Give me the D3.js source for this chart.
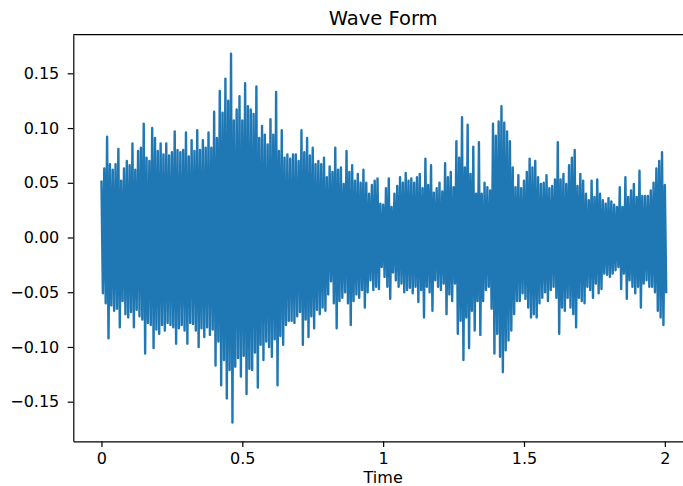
<!DOCTYPE html>
<html>
<head>
<meta charset="utf-8">
<script src="https://cdn.jsdelivr.net/npm/d3@7"></script>
<style>
  body { margin: 0; background: #fff; }
  text { font-family: "DejaVu Sans", sans-serif; }
</style>
</head>
<body>
<svg id="myGraph" width="683" height="486"></svg>
<script>
// one max/min pair per 10 ms window
var step = 0.01

var upperPeaks = [
  0.052,0.063,0.092,0.067,0.062,0.067,0.081,0.052,0.063,0.070,
  0.066,0.086,0.062,0.079,0.082,0.104,0.073,0.070,0.100,0.091,
  0.079,0.086,0.076,0.086,0.075,0.078,0.097,0.080,0.078,0.080,
  0.096,0.074,0.089,0.079,0.098,0.080,0.089,0.082,0.096,0.082,
  0.115,0.091,0.134,0.114,0.145,0.125,0.168,0.107,0.117,0.129,
  0.107,0.141,0.120,0.117,0.113,0.138,0.091,0.102,0.094,0.085,
  0.108,0.094,0.133,0.079,0.098,0.073,0.076,0.072,0.076,0.076,
  0.070,0.098,0.078,0.091,0.075,0.082,0.067,0.070,0.067,0.073,
  0.055,0.065,0.060,0.082,0.062,0.064,0.049,0.079,0.060,0.066,
  0.052,0.058,0.050,0.062,0.050,0.040,0.048,0.052,0.054,0.031,
  0.030,0.045,0.054,0.028,0.040,0.047,0.055,0.050,0.059,0.052,
  0.054,0.050,0.055,0.058,0.045,0.072,0.048,0.066,0.041,0.045,
  0.050,0.042,0.068,0.055,0.060,0.046,0.088,0.073,0.110,0.064,
  0.103,0.058,0.083,0.040,0.087,0.040,0.050,0.046,0.043,0.104,
  0.093,0.106,0.120,0.105,0.097,0.088,0.064,0.046,0.057,0.045,
  0.052,0.060,0.072,0.064,0.070,0.055,0.049,0.050,0.057,0.045,
  0.047,0.053,0.087,0.053,0.058,0.049,0.066,0.073,0.080,0.047,
  0.058,0.052,0.040,0.034,0.052,0.037,0.053,0.040,0.034,0.031,
  0.036,0.033,0.030,0.028,0.046,0.028,0.055,0.037,0.043,0.049,
  0.037,0.061,0.038,0.038,0.038,0.043,0.050,0.063,0.070,0.078,
  0.048
]

var lowerPeaks = [
  -0.051,-0.060,-0.092,-0.062,-0.067,-0.065,-0.082,-0.058,-0.070,-0.073,
  -0.068,-0.082,-0.066,-0.072,-0.075,-0.106,-0.078,-0.080,-0.101,-0.084,
  -0.088,-0.080,-0.085,-0.078,-0.080,-0.082,-0.097,-0.083,-0.080,-0.085,
  -0.097,-0.078,-0.079,-0.085,-0.100,-0.083,-0.091,-0.082,-0.089,-0.084,
  -0.117,-0.095,-0.135,-0.112,-0.147,-0.121,-0.169,-0.118,-0.110,-0.127,
  -0.108,-0.143,-0.120,-0.121,-0.105,-0.137,-0.098,-0.112,-0.095,-0.100,
  -0.109,-0.093,-0.135,-0.090,-0.098,-0.080,-0.076,-0.076,-0.078,-0.072,
  -0.068,-0.098,-0.075,-0.091,-0.072,-0.083,-0.066,-0.070,-0.064,-0.067,
  -0.052,-0.040,-0.060,-0.083,-0.058,-0.055,-0.050,-0.060,-0.080,-0.058,
  -0.052,-0.055,-0.048,-0.064,-0.050,-0.039,-0.048,-0.045,-0.047,-0.027,
  -0.036,-0.045,-0.056,-0.032,-0.039,-0.045,-0.042,-0.050,-0.048,-0.046,
  -0.051,-0.045,-0.059,-0.048,-0.073,-0.045,-0.050,-0.067,-0.039,-0.045,
  -0.048,-0.042,-0.070,-0.052,-0.058,-0.042,-0.088,-0.076,-0.112,-0.073,
  -0.101,-0.067,-0.085,-0.058,-0.089,-0.058,-0.048,-0.045,-0.065,-0.106,
  -0.088,-0.109,-0.123,-0.103,-0.094,-0.085,-0.070,-0.058,-0.058,-0.051,
  -0.056,-0.064,-0.073,-0.070,-0.073,-0.060,-0.055,-0.050,-0.058,-0.048,
  -0.045,-0.055,-0.088,-0.064,-0.067,-0.055,-0.064,-0.070,-0.082,-0.055,
  -0.058,-0.060,-0.045,-0.048,-0.055,-0.042,-0.051,-0.047,-0.033,-0.034,
  -0.036,-0.033,-0.030,-0.027,-0.047,-0.033,-0.056,-0.039,-0.045,-0.051,
  -0.045,-0.064,-0.042,-0.039,-0.045,-0.045,-0.050,-0.067,-0.073,-0.080,
  -0.051
]

var xTicks = [0, 0.5, 1, 1.5, 2]
var xTickLabels = ["0", "0.5", "1", "1.5", "2"]
var yTicks = [-0.15, -0.10, -0.05, 0, 0.05, 0.10, 0.15]
var yTickLabels = ["\u22120.15", "\u22120.10", "\u22120.05", "0.00", "0.05", "0.10", "0.15"]

// plot frame (right edge lies just past the picture)
var plotLeft = 73.3, plotRight = 693, plotTop = 34.7, plotBottom = 441.3

var svg = d3.select("#myGraph")

var xScale = d3.scaleLinear()
    .domain([-0.1, 2.1])
    .range([plotLeft, plotRight])

var yScale = d3.scaleLinear()
    .domain([-0.1862, 0.1853])
    .range([plotBottom, plotTop])

// waveform: each window climbs to its max, then drops to its min
var points = []
upperPeaks.forEach((v, i) => {
    points.push([i * step, v])
    points.push([i * step + step / 2, lowerPeaks[i]])
})

svg.append("path")
    .datum(points)
    .attr("fill", "none")
    .attr("stroke", "#1f77b4")
    .attr("stroke-width", 2.4)
    .attr("stroke-linejoin", "round")
    .attr("d", d3.line()
        .x(d => xScale(d[0]))
        .y(d => yScale(d[1])))

var xAxis = d3.axisBottom(xScale)
    .tickValues(xTicks)
    .tickFormat((d, i) => xTickLabels[i])
    .tickSize(5.6)
    .tickSizeOuter(0)
    .tickPadding(5.7)

var yAxis = d3.axisLeft(yScale)
    .tickValues(yTicks)
    .tickFormat((d, i) => yTickLabels[i])
    .tickSize(5.6)
    .tickSizeOuter(0)
    .tickPadding(8.4)

svg.append("g")
    .attr("class", "axis")
    .attr("transform", "translate(0," + plotBottom + ")")
    .call(xAxis)

svg.append("g")
    .attr("class", "axis")
    .attr("transform", "translate(" + plotLeft + ",0)")
    .call(yAxis)

svg.selectAll(".axis text")
    .attr("font-size", 16)
    .attr("fill", "#000")
svg.selectAll(".axis line, .axis path")
    .attr("stroke", "#000")
    .attr("stroke-width", 1.2)

// top and right spines
svg.append("line")
    .attr("x1", plotLeft).attr("x2", plotRight)
    .attr("y1", plotTop).attr("y2", plotTop)
    .attr("stroke", "#000").attr("stroke-width", 1.2)
svg.append("line")
    .attr("x1", plotRight).attr("x2", plotRight)
    .attr("y1", plotTop).attr("y2", plotBottom)
    .attr("stroke", "#000").attr("stroke-width", 1.2)

svg.append("text")
    .attr("x", (plotLeft + plotRight) / 2)
    .attr("y", 24.7)
    .attr("text-anchor", "middle")
    .attr("font-size", 19.5)
    .attr("fill", "#000")
    .text("Wave Form")

svg.append("text")
    .attr("x", (plotLeft + plotRight) / 2)
    .attr("y", 482.5)
    .attr("text-anchor", "middle")
    .attr("font-size", 16)
    .attr("fill", "#000")
    .text("Time")
</script>
</body>
</html>
